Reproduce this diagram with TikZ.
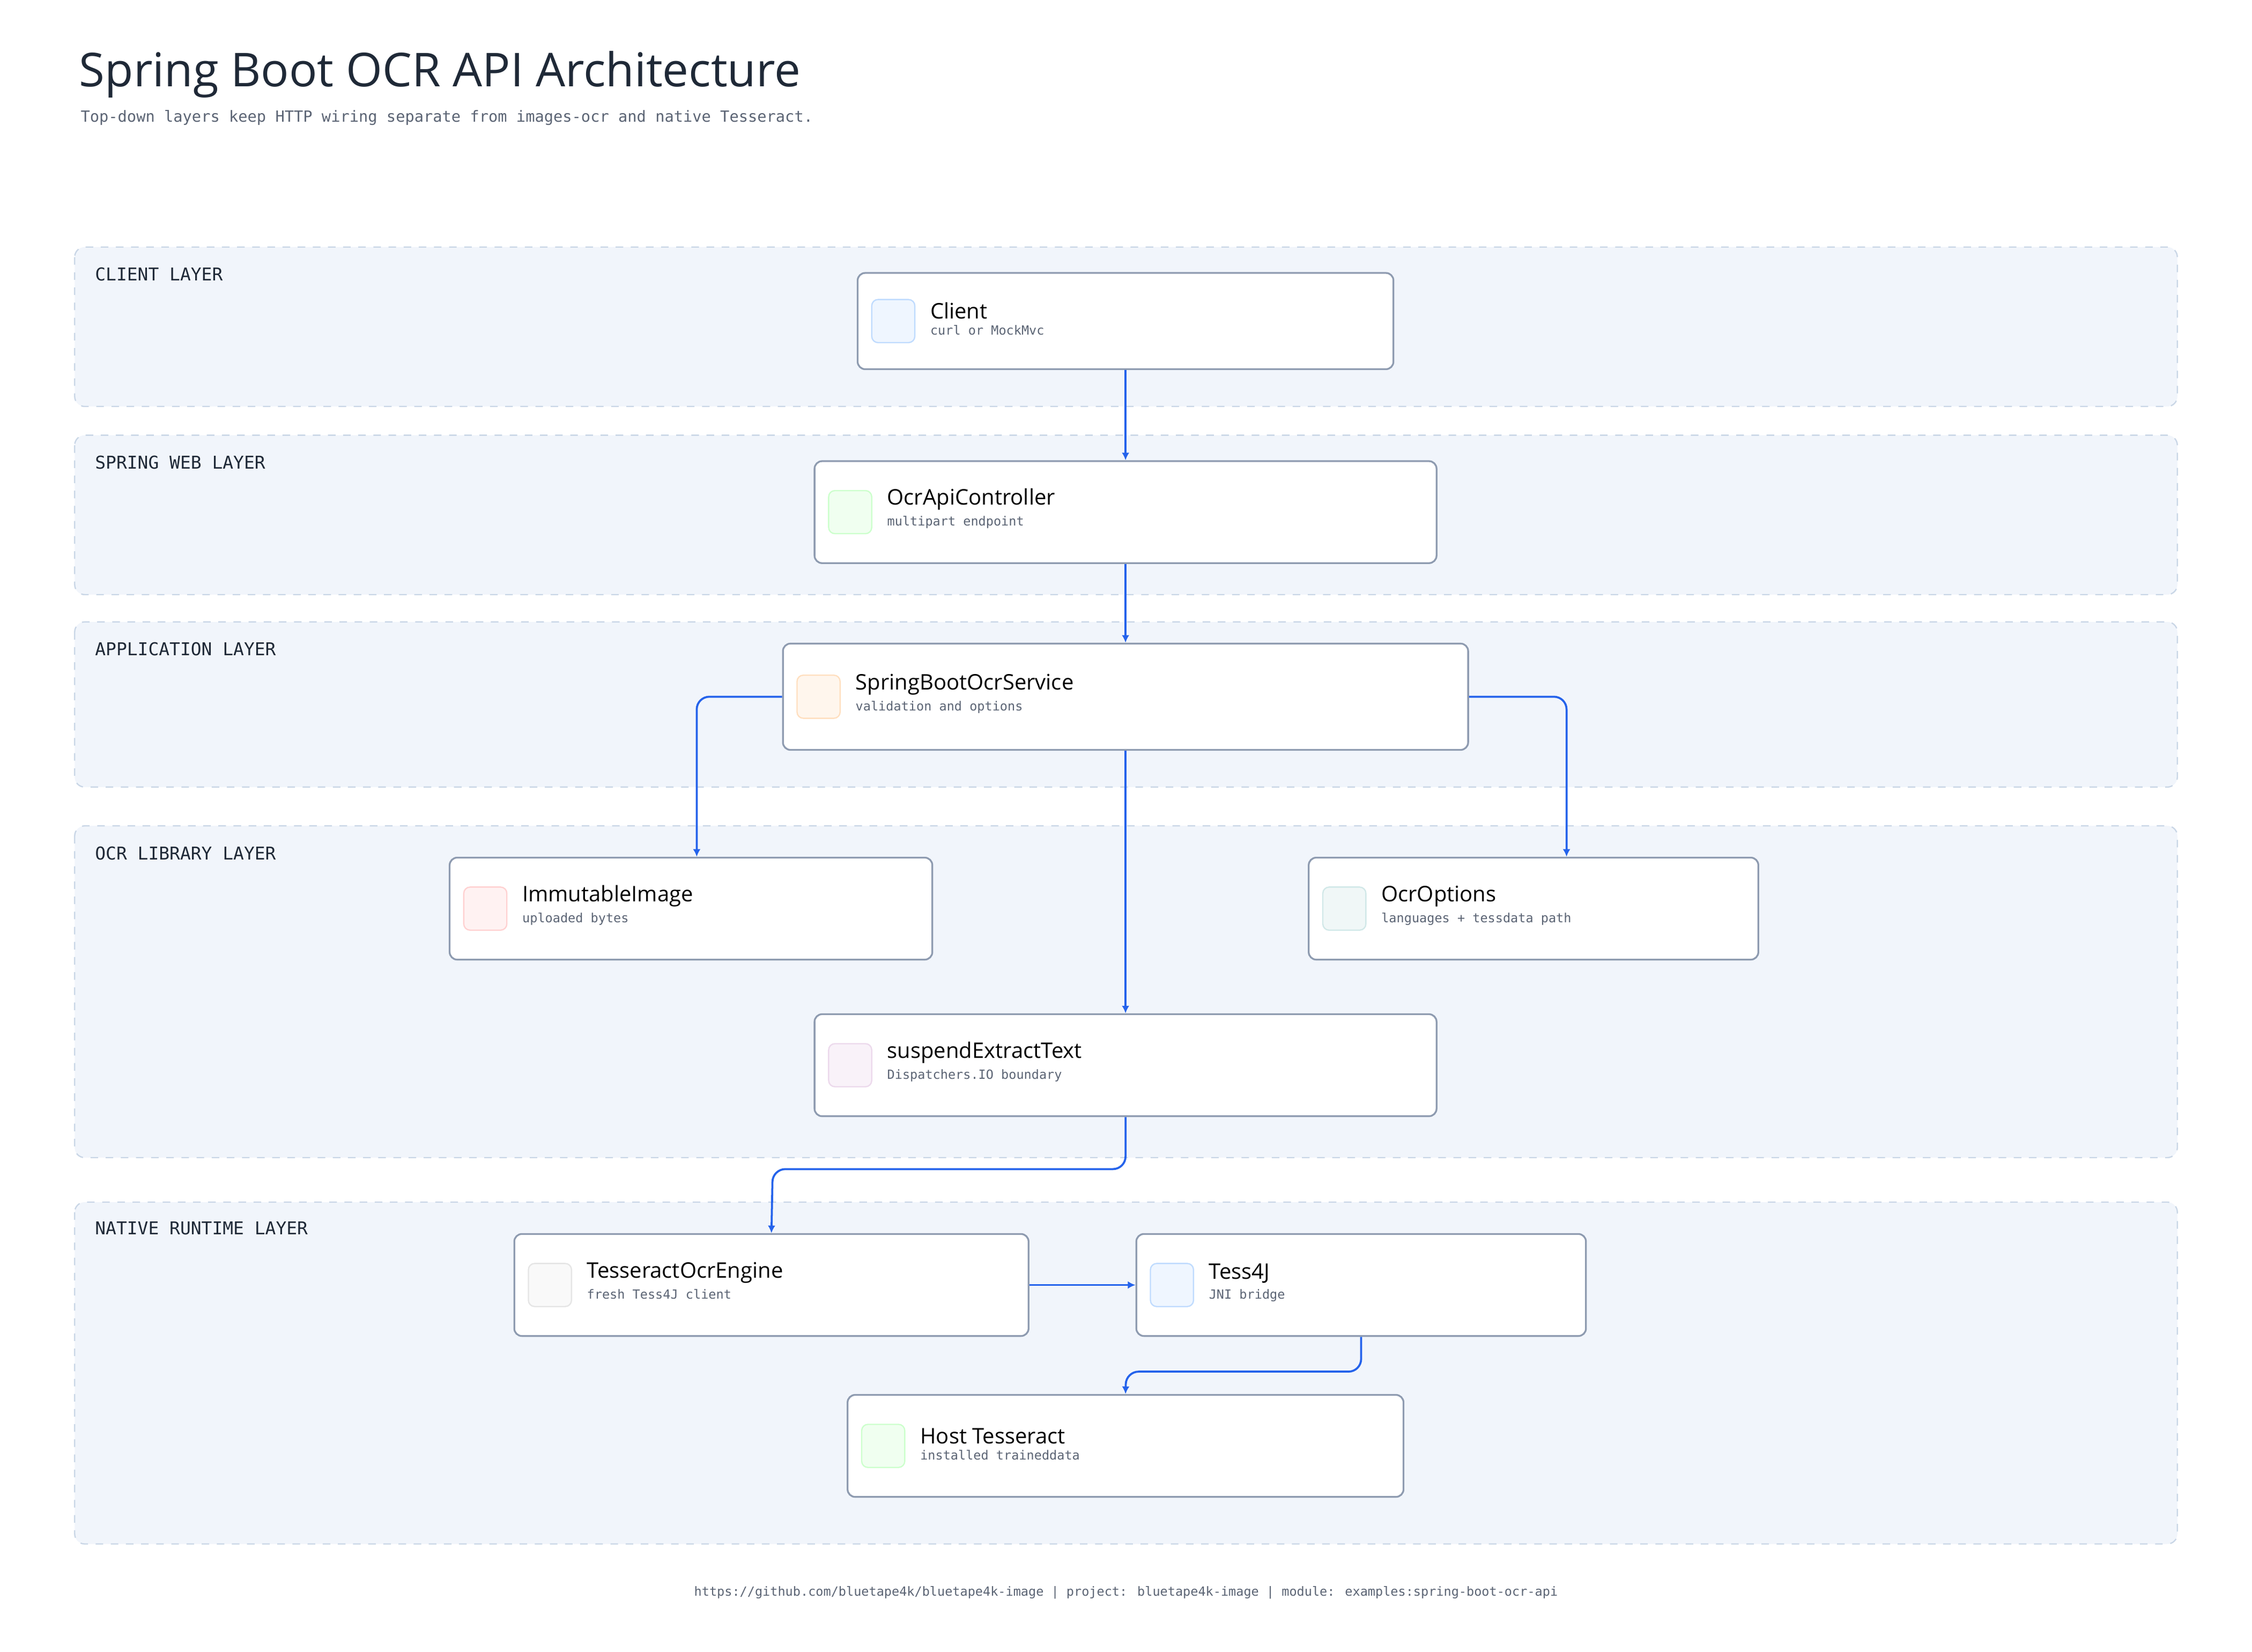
\documentclass[tikz,border=0pt]{standalone}
\usepackage{fontspec}
\setmainfont{Open Sans}
\newfontfamily\mono{DejaVu Sans Mono}
\usetikzlibrary{positioning, arrows.meta}
\definecolor{edgeblue}{HTML}{2563EB}
\definecolor{layerfill}{HTML}{F1F5FB}
\definecolor{layerline}{HTML}{C9D6E6}
\definecolor{boxline}{HTML}{8E9BB0}
\definecolor{inktext}{HTML}{1F2937}
\definecolor{subtext}{HTML}{5B6474}
\definecolor{iconblue}{HTML}{EFF6FF}
\definecolor{iconblueline}{HTML}{BFDBFE}
\tikzset{
  layer/.style={draw=layerline, dashed, fill=layerfill, rounded corners=4pt, line width=0.5pt},
  layerlabel/.style={anchor=west, font=\mono\fontsize{7}{8}\selectfont, text=inktext},
  comp/.style={draw=boxline, fill=white, rounded corners=3pt, line width=0.7pt},
  icon/.style={rounded corners=2.5pt, minimum size=0.6cm, line width=0.5pt, inner sep=0pt},
  ctitle/.style={anchor=west, inner sep=0pt, font=\fontsize{8.5}{9}\selectfont, text=black},
  csub/.style={anchor=west, inner sep=0pt, font=\mono\fontsize{5}{6}\selectfont, text=subtext},
  flow/.style={draw=edgeblue, line width=0.8pt, rounded corners=5pt, -{Latex[length=3pt,width=3pt]}}
}
% component box: name, x1, y1, x2, y2, fill, border, title, subtitle
\newcommand{\component}[9]{
  \node (#1) [comp, minimum width={(#4-#2)*0.02cm}, minimum height={(#5-#3)*0.02cm}, inner sep=0pt]
    at ({(#2+#4)/2*0.02}, {-(#3+#5)/2*0.02}) {};
  \node (#1-icon) [icon, fill=#6, draw=#7, anchor=west] at ([xshift=0.2cm]#1.west) {};
  \node (#1-title) [ctitle, above right=0.02cm and 0.2cm of #1-icon.east] {#8};
  \node (#1-sub) [csub, below right=0.05cm and 0.2cm of #1-icon.east] {#9};
}
\begin{document}
\begin{tikzpicture}
  \useasboundingbox (0,0) rectangle (31.36,-23);
  \fill[white] (0,0) rectangle (31.36,-23);

  % Heading
  \node (title) [anchor=west, font=\fontsize{18.5}{22}\selectfont, text=inktext] at (0.98,-1.04) {Spring Boot OCR API Architecture};
  \node (subtitle) [anchor=west, font=\mono\fontsize{6.1}{8}\selectfont, text=subtext] at (1.0,-1.64) {Top-down layers keep HTTP wiring separate from images-ocr and native Tesseract.};

  % Layers
  \draw[layer] (1.04,-3.44) rectangle (30.32,-5.66);
  \draw[layer] (1.04,-6.06) rectangle (30.32,-8.28);
  \draw[layer] (1.04,-8.66) rectangle (30.32,-10.96);
  \draw[layer] (1.04,-11.5) rectangle (30.32,-16.12);
  \draw[layer] (1.04,-16.74) rectangle (30.32,-21.5);
  \node (l1) [layerlabel] at (1.2,-3.82) {CLIENT LAYER};
  \node (l2) [layerlabel] at (1.2,-6.44) {SPRING WEB LAYER};
  \node (l3) [layerlabel] at (1.2,-9.04) {APPLICATION LAYER};
  \node (l4) [layerlabel] at (1.2,-11.88) {OCR LIBRARY LAYER};
  \node (l5) [layerlabel] at (1.2,-17.1) {NATIVE RUNTIME LAYER};

  % Components
  \component{client}{597}{190}{970}{257}{iconblue}{iconblueline}{Client}{curl or MockMvc}
  \component{controller}{567}{321}{1000}{392}{green!6}{green!20}{OcrApiController}{multipart endpoint}
  \component{service}{545}{448}{1022}{522}{orange!7}{orange!25}{SpringBootOcrService}{validation and options}
  \component{image}{313}{597}{649}{668}{red!5}{red!18}{ImmutableImage}{uploaded bytes}
  \component{options}{911}{597}{1224}{668}{teal!6}{teal!18}{OcrOptions}{languages + tessdata path}
  \component{extract}{567}{706}{1000}{777}{violet!5}{violet!15}{suspendExtractText}{Dispatchers.IO boundary}
  \component{engine}{358}{859}{716}{930}{gray!5}{gray!20}{TesseractOcrEngine}{fresh Tess4J client}
  \component{tess}{791}{859}{1104}{930}{iconblue}{iconblueline}{Tess4J}{JNI bridge}
  \component{host}{590}{971}{977}{1042}{green!6}{green!20}{Host Tesseract}{installed traineddata}

  % Connectors
  \draw[flow] (client) -- (controller);
  \draw[flow] (controller) -- (service);
  \draw[flow] (service.west) -| ([xshift=0.08cm]image.north);
  \draw[flow] (service.east) -| ([xshift=0.46cm]options.north);
  \draw[flow] (service) -- (extract);
  \draw[flow] (extract.south) |- (10.76,-16.28) -- (engine.north);
  \draw[flow] (engine) -- (tess);
  \draw[flow] (tess.south) |- (15.68,-19.1) -- (host.north);

  % Footer
  \node (footer) [font=\mono\fontsize{5}{6}\selectfont, text=subtext] at (15.68,-22.18) {https://github.com/bluetape4k/bluetape4k-image | project: bluetape4k-image | module: examples:spring-boot-ocr-api};
\end{tikzpicture}
\end{document}
